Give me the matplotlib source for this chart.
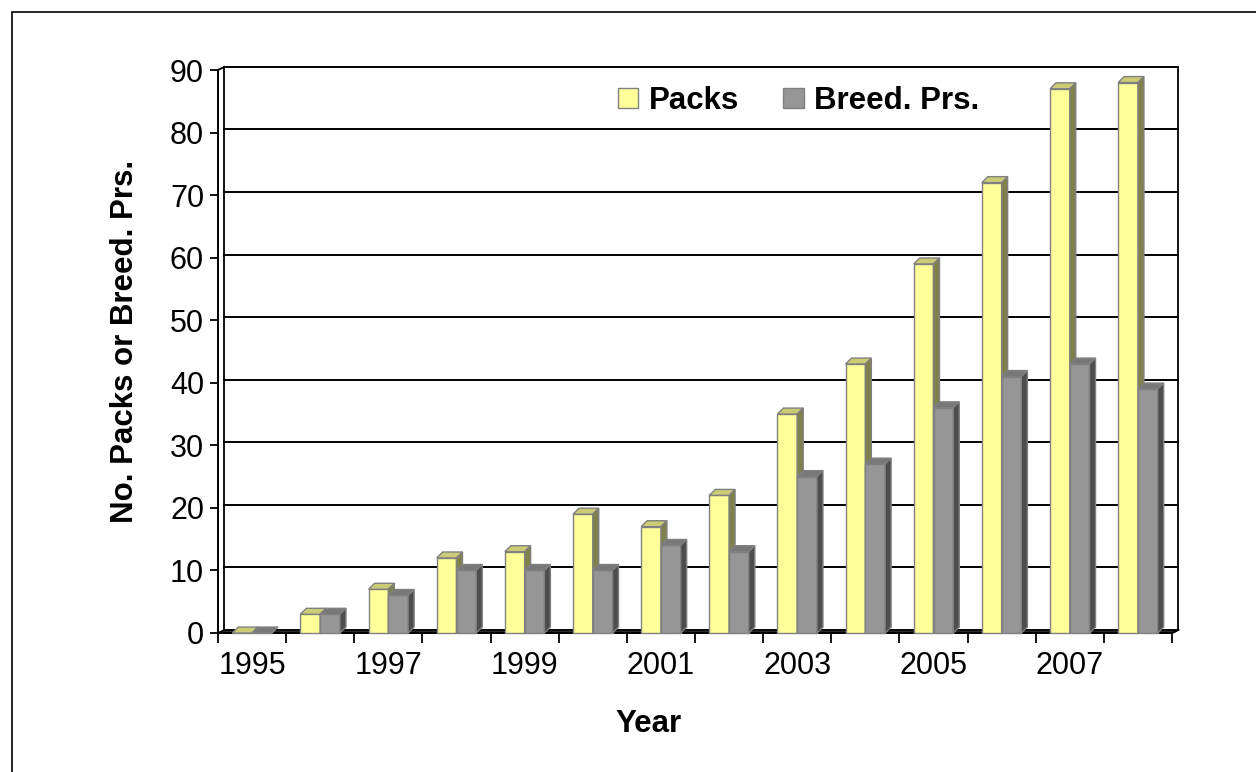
import matplotlib
matplotlib.use("Agg")
import matplotlib.pyplot as plt
from matplotlib.patches import Polygon, Rectangle, Patch

plt.rcParams['font.family'] = ['Liberation Sans', 'DejaVu Sans']

# ============================================
# Data
# ============================================
years = [1995, 1996, 1997, 1998, 1999, 2000, 2001,
         2002, 2003, 2004, 2005, 2006, 2007, 2008]
packs = [0, 3, 7, 12, 13, 19, 17, 22, 35, 43, 59, 72, 87, 88]
breed_prs = [0, 3, 6, 10, 10, 10, 14, 13, 25, 27, 36, 41, 43, 39]
y_ticks = [0, 10, 20, 30, 40, 50, 60, 70, 80, 90]
label_years = [1995, 1997, 1999, 2001, 2003, 2005, 2007]

# ============================================
# Style
# ============================================
W, H = 1256, 772
FS = 22
FS_LAB = 22.5
WDX, WDY = 0.095, 0.5      # back wall offset (data units)
BDX, BDY = 0.088, 0.95     # bar depth offset (data units)

YEL = ('#FFFF99', '#CCCC77', '#80804D')
GRY = ('#969696', '#787878', '#4D4D4D')

fig = plt.figure(figsize=(W / 100, H / 100), dpi=100)
ax = fig.add_axes([218 / W, (H - 633) / H, 954 / W, 563 / H])
n = len(years)
ax.set_xlim(0, n)
ax.set_ylim(0, 90)

# back wall: gridlines and outline
for v in y_ticks[1:]:
    ax.plot([WDX, n + WDX], [v + WDY, v + WDY], color='black', lw=1.4,
            clip_on=False, zorder=1)
for xx in (WDX, n + WDX):
    ax.plot([xx, xx], [WDY, 90 + WDY], color='black', lw=1.3,
            clip_on=False, zorder=1)
ax.plot([0, WDX], [90, 90 + WDY], color='black', lw=1.3, clip_on=False, zorder=1)
ax.plot([n, n + WDX], [0, WDY], color='black', lw=1.3, clip_on=False, zorder=1)

# floor
ax.add_patch(Polygon([(0, 0), (n, 0), (n + WDX, WDY), (WDX, WDY)],
                     closed=True, facecolor='#2a2a2a', edgecolor='black',
                     lw=1.2, clip_on=False, zorder=2))


def draw_bar(x0, w, h, cols):
    face, top, side = cols
    ax.bar(x0, h, width=w, align='edge', color=face, edgecolor='#808080',
           lw=1.0, zorder=3, clip_on=False)
    x1 = x0 + w
    ax.add_patch(Polygon([(x0, h), (x1, h), (x1 + BDX, h + BDY), (x0 + BDX, h + BDY)],
                         closed=True, facecolor=top, edgecolor='#808080',
                         lw=1.0, zorder=3, clip_on=False))
    ax.add_patch(Polygon([(x1, 0), (x1, h), (x1 + BDX, h + BDY), (x1 + BDX, BDY)],
                         closed=True, facecolor=side, edgecolor='#808080',
                         lw=1.0, zorder=3, clip_on=False))


for i in range(n):
    draw_bar(i + 0.21, 0.29, packs[i], YEL)
    draw_bar(i + 0.50, 0.29, breed_prs[i], GRY)

# axes, ticks
for s in ('top', 'right'):
    ax.spines[s].set_visible(False)
ax.spines['left'].set_linewidth(1.4)
ax.spines['bottom'].set_linewidth(1.4)
ax.spines['bottom'].set_zorder(2.6)

ax.set_xticks(range(n + 1))
ax.set_xticklabels([])
ax.tick_params(axis='x', which='major', length=7.5, width=1.3, direction='out')
centers = [years.index(y) + 0.5 for y in label_years]
ax.set_xticks(centers, minor=True)
ax.set_xticklabels([str(y) for y in label_years], minor=True, fontsize=FS)
ax.tick_params(axis='x', which='minor', length=0, pad=13)

ax.set_yticks(y_ticks)
ax.set_yticklabels([str(v) for v in y_ticks], fontsize=FS)
ax.tick_params(axis='y', length=6, width=1.3, direction='out', pad=4)

# labels
fig.text(125 / W, 1 - 341 / H, 'No. Packs or Breed. Prs.', rotation=90,
         ha='center', va='center', fontsize=FS_LAB, fontweight='bold')
fig.text(648 / W, 1 - 732 / H, 'Year', ha='center', va='baseline',
         fontsize=FS_LAB, fontweight='bold')

# legend
handles = [Patch(facecolor=YEL[0], edgecolor='#808080', label='Packs'),
           Patch(facecolor=GRY[0], edgecolor='#808080', label='Breed. Prs.')]
leg = fig.legend(handles=handles, loc='center left', ncol=2,
                 bbox_to_anchor=(618 / W, 1 - 101 / H), frameon=False,
                 borderpad=0, borderaxespad=0, handlelength=0.65,
                 handleheight=0.65, handletextpad=0.35, columnspacing=1.4,
                 prop={'size': FS_LAB, 'weight': 'bold'})

# outer border
fig.add_artist(Rectangle((12 / W, -0.05), 1.5, (1 - 12 / H) + 0.05,
                         transform=fig.transFigure, fill=False,
                         edgecolor='black', lw=1.2))

fig.savefig('out.png', dpi=100)
